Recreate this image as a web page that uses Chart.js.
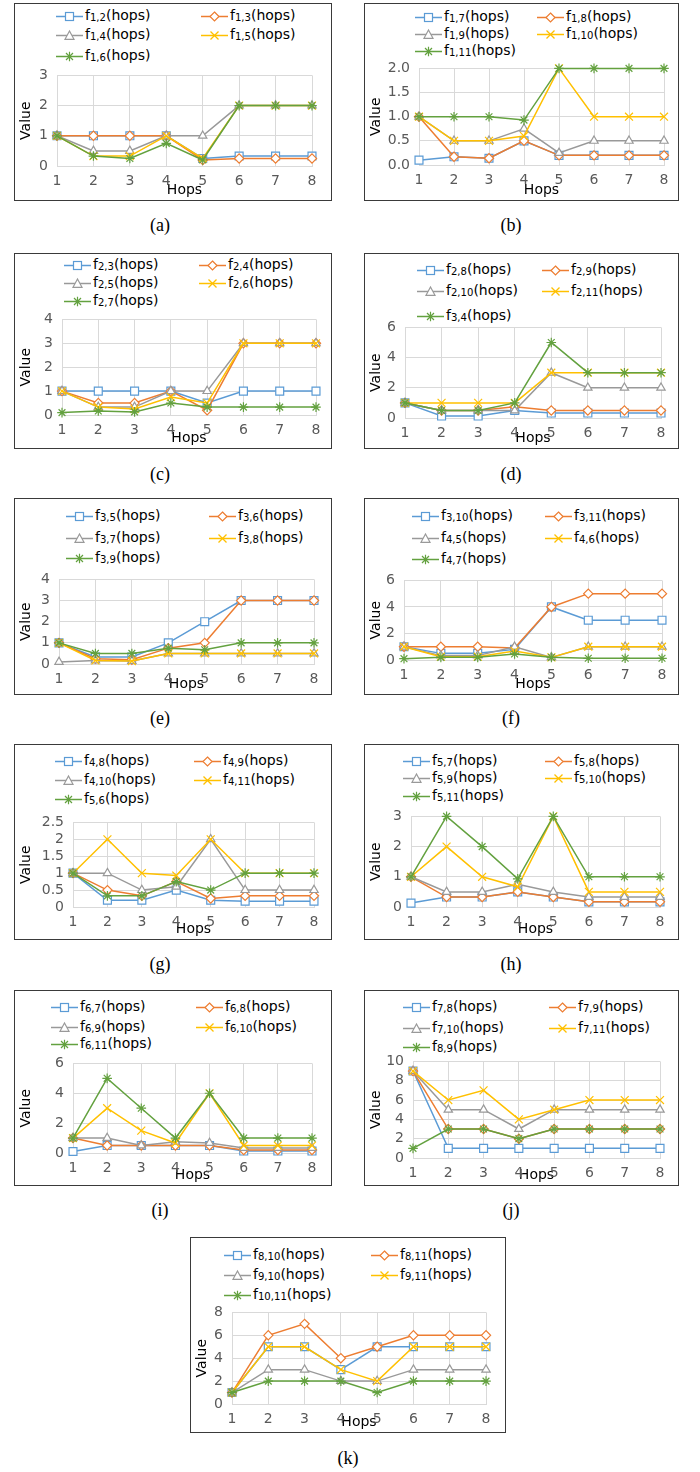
<!DOCTYPE html>
<html><head><meta charset="utf-8">
<script src="https://cdn.jsdelivr.net/npm/chart.js"></script>
<style>
body{margin:0;background:#fff;width:700px;height:1472px;position:relative;font-family:'DejaVu Sans',sans-serif;overflow:hidden}
.box{position:absolute;border:1px solid #3a3a3a;box-sizing:border-box;background:#fff}
canvas{position:absolute}
.leg{position:absolute;display:flex;align-items:center;height:18px;font-size:14px;color:#000;white-space:nowrap;line-height:18px}
.leg svg{margin-right:2px;flex:none}
.sub{font-size:0.72em;position:relative;top:0.14em}
.cap{position:absolute;font-family:'Liberation Serif',serif;font-size:18px;transform:translate(-50%,-50%);color:#000}
</style></head><body>
<script>
// ---- data ----
const hops = ['1','2','3','4','5','6','7','8'];

const namesA = ['1,2','1,3','1,4','1,5','1,6'];
const a1 = [1,1,1,1,0.25,0.33,0.33,0.33];
const a2 = [1,1,1,1,0.2,0.25,0.25,0.25];
const a3 = [1,0.5,0.5,1,1,2,2,2];
const a4 = [1,0.33,0.33,1,0.25,2,2,2];
const a5 = [1,0.33,0.25,0.75,0.2,2,2,2];
const yTicksA = ['0','1','2','3'];

const namesB = ['1,7','1,8','1,9','1,10','1,11'];
const b1 = [0.1,0.17,0.14,0.5,0.2,0.2,0.2,0.2];
const b2 = [1,0.17,0.14,0.5,0.2,0.2,0.2,0.2];
const b3 = [1,0.5,0.5,0.75,0.25,0.5,0.5,0.5];
const b4 = [1,0.5,0.5,0.6,2,1,1,1];
const b5 = [1,1,1,0.93,2,2,2,2];
const yTicksB = ['0.0','0.5','1.0','1.5','2.0'];

const namesC = ['2,3','2,4','2,5','2,6','2,7'];
const c1 = [1,1,1,1,0.5,1,1,1];
const c2 = [1,0.5,0.5,1,0.2,3,3,3];
const c3 = [1,0.33,0.33,1,1,3,3,3];
const c4 = [1,0.33,0.25,0.75,0.5,3,3,3];
const c5 = [0.1,0.17,0.13,0.5,0.33,0.33,0.33,0.33];
const yTicksC = ['0','1','2','3','4'];

const namesD = ['2,8','2,9','2,10','2,11','3,4'];
const d1 = [1,0.13,0.13,0.5,0.33,0.33,0.33,0.33];
const d2 = [1,0.5,0.5,0.75,0.5,0.5,0.5,0.5];
const d3 = [1,0.5,0.5,0.5,3,2,2,2];
const d4 = [1,1,1,1,3,3,3,3];
const d5 = [1,0.5,0.5,1,5,3,3,3];
const yTicksD = ['0','2','4','6'];

const namesE = ['3,5','3,6','3,7','3,8','3,9'];
const e1 = [1,0.33,0.33,1,2,3,3,3];
const e2 = [1,0.25,0.2,0.75,1,3,3,3];
const e3 = [0.1,0.17,0.14,0.5,0.5,0.5,0.5,0.5];
const e4 = [1,0.17,0.14,0.5,0.5,0.5,0.5,0.5];
const e5 = [1,0.5,0.5,0.75,0.67,1,1,1];
const yTicksE = ['0','1','2','3','4'];

const namesF = ['3,10','3,11','4,5','4,6','4,7'];
const f1 = [1,0.5,0.5,0.8,4,3,3,3];
const f2 = [1,1,1,0.9,4,5,5,5];
const f3 = [1,0.33,0.33,1,0.2,1,1,1];
const f4 = [1,0.25,0.25,0.67,0.2,1,1,1];
const f5 = [0.1,0.2,0.2,0.45,0.2,0.13,0.13,0.13];
const yTicksF = ['0','2','4','6'];

const namesG = ['4,8','4,9','4,10','4,11','5,6'];
const g1 = [1,0.2,0.2,0.5,0.2,0.17,0.17,0.17];
const g2 = [1,0.5,0.33,0.75,0.25,0.33,0.33,0.33];
const g3 = [1,1,0.5,0.6,2,0.5,0.5,0.5];
const g4 = [1,2,1,0.93,2,1,1,1];
const g5 = [1,0.33,0.33,0.75,0.5,1,1,1];
const yTicksG = ['0','0.5','1','1.5','2','2.5'];

const namesH = ['5,7','5,8','5,9','5,10','5,11'];
const h1 = [0.13,0.33,0.33,0.5,0.33,0.17,0.17,0.17];
const h2 = [1,0.33,0.33,0.5,0.33,0.17,0.17,0.17];
const h3 = [1,0.5,0.5,0.75,0.5,0.33,0.33,0.33];
const h4 = [1,2,1,0.67,3,0.5,0.5,0.5];
const h5 = [1,3,2,0.93,3,1,1,1];
const yTicksH = ['0','1','2','3'];

const namesI = ['6,7','6,8','6,9','6,10','6,11'];
const i1 = [0.1,0.5,0.5,0.5,0.5,0.13,0.13,0.13];
const i2 = [1,0.5,0.5,0.5,0.5,0.2,0.2,0.2];
const i3 = [1,1,0.5,0.75,0.67,0.33,0.33,0.33];
const i4 = [1,3,1.5,0.67,4,0.5,0.5,0.5];
const i5 = [1,5,3,1,4,1,1,1];
const yTicksI = ['0','2','4','6'];

const namesJ = ['7,8','7,9','7,10','7,11','8,9'];
const j1 = [9,1,1,1,1,1,1,1];
const j2 = [9,3,3,2,3,3,3,3];
const j3 = [9,5,5,3,5,5,5,5];
const j4 = [9,6,7,4,5,6,6,6];
const j5 = [1,3,3,2,3,3,3,3];
const yTicksJ = ['0','2','4','6','8','10'];

const namesK = ['8,10','8,11','9,10','9,11','10,11'];
const k1 = [1,5,5,3,5,5,5,5];
const k2 = [1,6,7,4,5,6,6,6];
const k3 = [1,3,3,2,2,3,3,3];
const k4 = [1,5,5,3,2,5,5,5];
const k5 = [1,2,2,2,1,2,2,2];
const yTicksK = ['0','2','4','6','8'];

const captions = ['(a)','(b)','(c)','(d)','(e)','(f)','(g)','(h)','(i)','(j)','(k)'];

// ---- layout (positions only) ----
const panels = [
 {names:namesA, series:[a1,a2,a3,a4,a5], yt:yTicksA, box:[14,3,318,198], plot:[57,312,72,166], leg:[56,201,[16,35,56]], cap:[160,225]},
 {names:namesB, series:[b1,b2,b3,b4,b5], yt:yTicksB, box:[364,3,315,198], plot:[419,664,65,165], leg:[415,537,[17,34,51]], cap:[511,225]},
 {names:namesC, series:[c1,c2,c3,c4,c5], yt:yTicksC, box:[14,253,318,196], plot:[62,316,316,415], leg:[64,199,[265,283,301]], cap:[160,474]},
 {names:namesD, series:[d1,d2,d3,d4,d5], yt:yTicksD, box:[364,253,315,196], plot:[405,661,324,418], leg:[417,542,[270,291,316]], cap:[511,474]},
 {names:namesE, series:[e1,e2,e3,e4,e5], yt:yTicksE, box:[14,498,318,197], plot:[59,314,576,664], leg:[66,209,[516,538,558]], cap:[160,718]},
 {names:namesF, series:[f1,f2,f3,f4,f5], yt:yTicksF, box:[364,498,315,197], plot:[404,662,577,660], leg:[412,545,[516,538,559]], cap:[511,718]},
 {names:namesG, series:[g1,g2,g3,g4,g5], yt:yTicksG, box:[14,744,318,196], plot:[73,314,819,907], leg:[55,194,[761,780,799]], cap:[160,964]},
 {names:namesH, series:[h1,h2,h3,h4,h5], yt:yTicksH, box:[364,744,315,196], plot:[411,660,813,907], leg:[403,545,[761,778,796]], cap:[511,964]},
 {names:namesI, series:[i1,i2,i3,i4,i5], yt:yTicksI, box:[14,990,318,196], plot:[73,312,1060,1153], leg:[51,196,[1007,1027,1044]], cap:[160,1210]},
 {names:namesJ, series:[j1,j2,j3,j4,j5], yt:yTicksJ, box:[364,990,315,196], plot:[413,660,1058,1158], leg:[403,549,[1007,1028,1047]], cap:[511,1210]},
 {names:namesK, series:[k1,k2,k3,k4,k5], yt:yTicksK, box:[190,1237,316,196], plot:[232,486,1309,1404], leg:[224,371,[1255,1275,1295]], cap:[348,1458]}
];

const styles = [
 {c:'#5B9BD5', p:'rect', r:5.6, fill:'#fff'},
 {c:'#ED7D31', p:'rectRot', r:4.6, fill:'#fff'},
 {c:'#999999', p:'triangle', r:4.8, fill:'#fff'},
 {c:'#FFC000', p:'crossRot', r:5.6, fill:'#FFC000'},
 {c:'#63A13F', p:'star', r:4.8, fill:'#63A13F'}
];

function markerSVG(k){
  const s = styles[k], c = s.c;
  let m = '';
  if (k===0) m = `<rect x="9.5" y="2.5" width="8" height="8" fill="#fff" stroke="${c}" stroke-width="1.2"/>`;
  if (k===1) m = `<polygon points="13.5,2 18,6.5 13.5,11 9,6.5" fill="#fff" stroke="${c}" stroke-width="1.2"/>`;
  if (k===2) m = `<polygon points="13.5,2 18,10.3 9,10.3" fill="#fff" stroke="${c}" stroke-width="1.2"/>`;
  if (k===3) m = `<path d="M9.5 2.5L17.5 10.5M17.5 2.5L9.5 10.5" stroke="${c}" stroke-width="1.3"/>`;
  if (k===4) m = `<path d="M10 3L17 10M17 3L10 10M13.5 1.7V11.3M8.7 6.5H18.3" stroke="${c}" stroke-width="1.2"/>`;
  return `<svg width="27" height="13" viewBox="0 0 27 13"><line x1="0" y1="6.5" x2="27" y2="6.5" stroke="${c}" stroke-width="1.5"/>${m}</svg>`;
}
function nameHTML(n){
  return `f<span class="sub">${n}</span>(hops)`;
}

Chart.defaults.font.family = "'DejaVu Sans', sans-serif";

panels.forEach((P, pi) => {
  const [bx,by,bw,bh] = P.box;
  const box = document.createElement('div');
  box.className = 'box';
  Object.assign(box.style,{left:bx+'px',top:by+'px',width:bw+'px',height:bh+'px'});
  document.body.appendChild(box);

  // legend
  P.names.forEach((n, k) => {
    const d = document.createElement('div');
    d.className = 'leg';
    const col = k % 2, row = Math.floor(k/2);
    d.style.left = (col ? P.leg[1] : P.leg[0]) + 'px';
    d.style.top = (P.leg[2][row] - 9) + 'px';
    d.innerHTML = markerSVG(k) + '<span>' + nameHTML(n) + '</span>';
    document.body.appendChild(d);
  });

  // caption
  const cp = document.createElement('div');
  cp.className = 'cap';
  cp.style.left = P.cap[0]+'px'; cp.style.top = P.cap[1]+'px';
  cp.textContent = captions[pi];
  document.body.appendChild(cp);

  // chart canvas
  const [x1,x8,yt,yb] = P.plot;
  const cl = bx + 1, ct = yt - 14;
  const cw = bw - 2, ch = (by + bh - 1) - ct;
  const cv = document.createElement('canvas');
  cv.width = cw; cv.height = ch;
  Object.assign(cv.style,{left:cl+'px',top:ct+'px',width:cw+'px',height:ch+'px'});
  document.body.appendChild(cv);

  const yMax = parseFloat(P.yt[P.yt.length-1]);
  const yStep = parseFloat(P.yt[1]);
  const yLabels = P.yt;

  new Chart(cv, {
    type:'line',
    data:{
      labels: hops,
      datasets: P.series.map((s,k)=>({
        label: 'f' + P.names[k] + '(hops)',
        data: s,
        borderColor: styles[k].c,
        backgroundColor: styles[k].c,
        borderWidth: 1.5,
        tension: 0,
        pointStyle: styles[k].p,
        pointRadius: styles[k].r,
        pointBorderWidth: 1.2,
        pointBorderColor: styles[k].c,
        pointBackgroundColor: styles[k].fill,
        order: 5 - k,
        clip: false
      }))
    },
    options:{
      responsive:false, animation:false, devicePixelRatio:1,
      layout:{padding:{left:0, top:14, right:(cl+cw)-x8, bottom:0}},
      plugins:{legend:{display:false}, tooltip:{enabled:false}},
      scales:{
        x:{
          type:'category', offset:false,
          grid:{color:'#D9D9D9', drawTicks:false, lineWidth:1},
          border:{color:'#D9D9D9'},
          ticks:{padding:7, color:'#595959', font:{size:14}, autoSkip:false, maxRotation:0},
          title:{display:true, text:'Hops', color:'#000', font:{size:14}, padding:{top:0,bottom:1}},
          afterFit: s => { s.height = (ct+ch) - yb; }
        },
        y:{
          min:0, max:yMax,
          grid:{color:'#D9D9D9', drawTicks:false, lineWidth:1},
          border:{display:false},
          ticks:{stepSize:yStep, padding:9, color:'#595959', font:{size:14}, autoSkip:false,
                 callback:(v,i)=> yLabels[i]},
          afterBuildTicks: s => { s.ticks = yLabels.map(t => ({value: parseFloat(t)})); },
          title:{display:true, text:'Value', color:'#000', font:{size:14}, padding:{top:3,bottom:0}},
          afterFit: s => { s.width = x1 - cl; }
        }
      }
    }
  });
});
</script>
</body></html>
